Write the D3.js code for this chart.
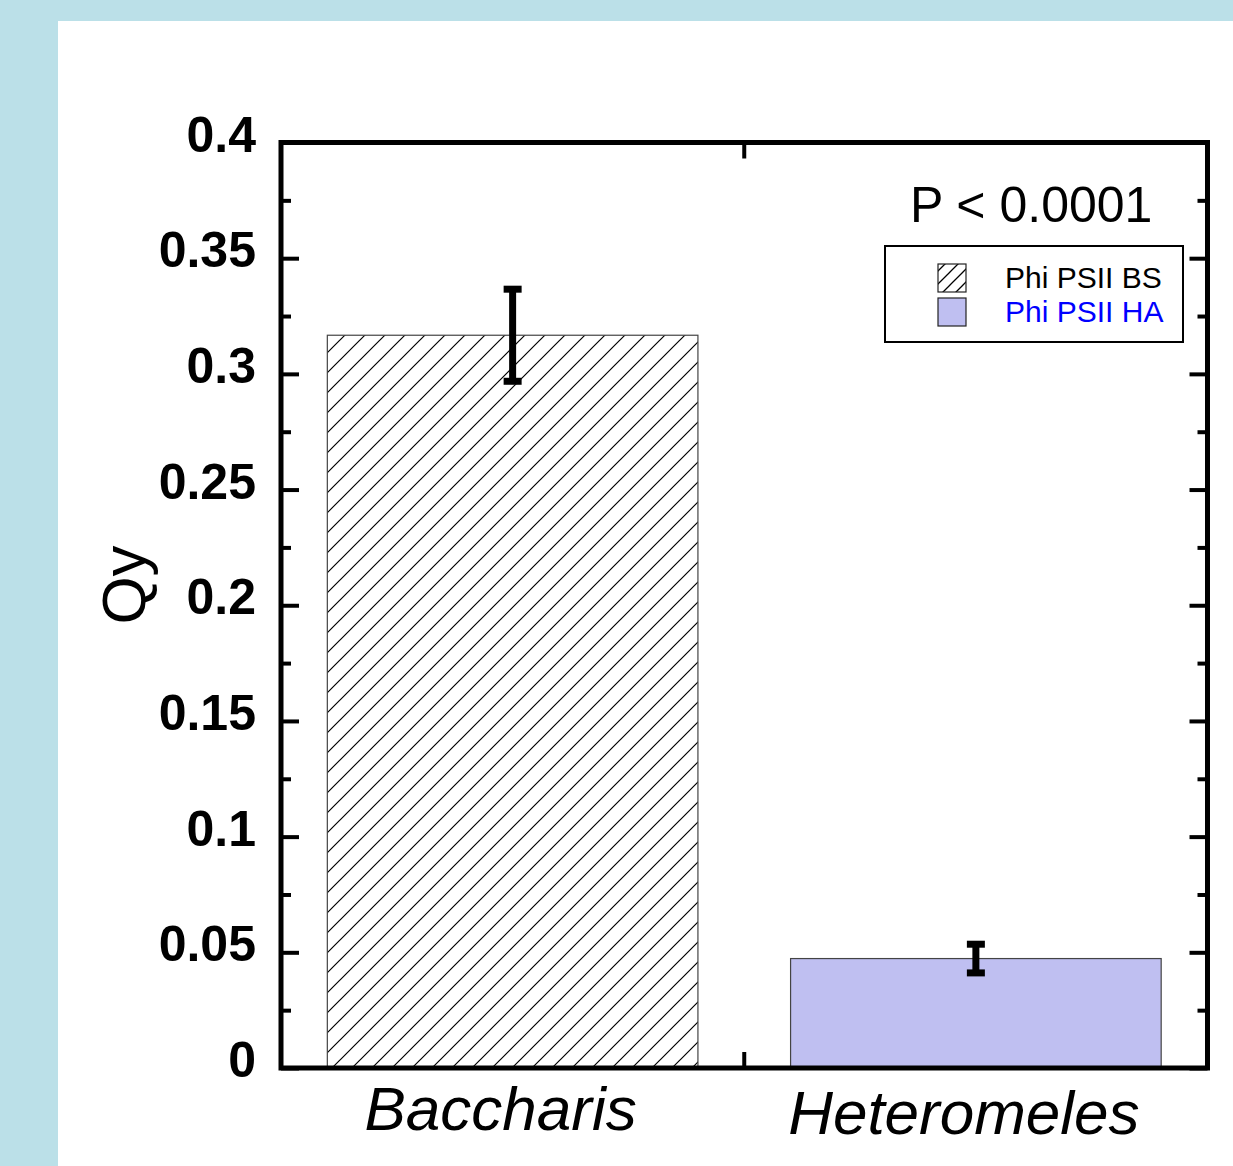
<!DOCTYPE html>
<html>
<head>
<meta charset="utf-8">
<script src="https://cdn.jsdelivr.net/npm/d3@7/dist/d3.min.js"></script>
<style>
  html, body { margin: 0; padding: 0; background: #bbe0e8; }
  svg { display: block; }
</style>
</head>
<body>
<div id="chart"></div>
<script>
// Chart data
const categories = ['Baccharis', 'Heteromeles'];
const means = [0.3167, 0.0473];
const errors = [0.0199, 0.0062];
const seriesNames = ['Phi PSII BS', 'Phi PSII HA'];
const seriesColors = ['url(#hatch)', '#bfbff1'];
const legendTextColors = ['#000000', '#0000ff'];
const yMajorTicks = [0, 0.05, 0.1, 0.15, 0.2, 0.25, 0.3, 0.35, 0.4];
const yTickLabels = ['0', '0.05', '0.1', '0.15', '0.2', '0.25', '0.3', '0.35', '0.4'];
const yMinorTicks = [0.025, 0.075, 0.125, 0.175, 0.225, 0.275, 0.325, 0.375];
const yLabel = 'Qy';
const pValueText = 'P < 0.0001';

// Dimensions
const W = 1233, H = 1166;
const plot = { left: 281, right: 1207.5, top: 142.5, bottom: 1068 };
const font = '"Liberation Sans", Arial, sans-serif';

const svg = d3.select('#chart')
    .append('svg')
    .attr('width', W)
    .attr('height', H);

// Hatch pattern for the first series
const defs = svg.append('defs');
const hatch = defs.append('pattern')
    .attr('id', 'hatch')
    .attr('patternUnits', 'userSpaceOnUse')
    .attr('width', 20)
    .attr('height', 20);
hatch.append('rect').attr('width', 20).attr('height', 20).attr('fill', '#fff');
hatch.append('path')
    .attr('d', 'M-5,5 L5,-5 M0,20 L20,0 M15,25 L25,15')
    .attr('stroke', '#000')
    .attr('stroke-width', 1.2);

const hatchSmall = defs.append('pattern')
    .attr('id', 'hatch-small')
    .attr('patternUnits', 'userSpaceOnUse')
    .attr('width', 13)
    .attr('height', 13);
hatchSmall.append('rect').attr('width', 13).attr('height', 13).attr('fill', '#fff');
hatchSmall.append('path')
    .attr('d', 'M-3,3 L3,-3 M0,13 L13,0 M10,16 L16,10')
    .attr('stroke', '#000')
    .attr('stroke-width', 1.3);

// Backgrounds
svg.append('rect').attr('width', W).attr('height', H).attr('fill', '#bbe0e8');
svg.append('rect').attr('x', 58).attr('y', 21).attr('width', W - 58).attr('height', H - 21).attr('fill', '#fff');

// Scales
const x = d3.scaleBand()
    .domain(categories)
    .range([plot.left, plot.right])
    .paddingInner(0.2)
    .paddingOuter(0.1);

const y = d3.scaleLinear()
    .domain([0, 0.4])
    .range([plot.bottom, plot.top]);

// Bars
svg.selectAll('.bar')
    .data(categories)
    .enter().append('rect')
    .attr('class', 'bar')
    .attr('x', d => x(d))
    .attr('y', (d, i) => y(means[i]))
    .attr('width', x.bandwidth())
    .attr('height', (d, i) => y(0) - y(means[i]))
    .attr('fill', (d, i) => seriesColors[i])
    .attr('stroke', '#444')
    .attr('stroke-width', 1.2);

// Error bars
const errG = svg.selectAll('.err')
    .data(categories)
    .enter().append('g')
    .attr('class', 'err')
    .attr('stroke', '#000')
    .attr('stroke-width', 7);

errG.append('line')
    .attr('x1', d => x(d) + x.bandwidth() / 2)
    .attr('x2', d => x(d) + x.bandwidth() / 2)
    .attr('y1', (d, i) => y(means[i] + errors[i]))
    .attr('y2', (d, i) => y(means[i] - errors[i]));

[1, -1].forEach(sign => {
    errG.append('line')
        .attr('x1', d => x(d) + x.bandwidth() / 2 - 9)
        .attr('x2', d => x(d) + x.bandwidth() / 2 + 9)
        .attr('y1', (d, i) => y(means[i] + sign * errors[i]))
        .attr('y2', (d, i) => y(means[i] + sign * errors[i]));
});

// Left axis (ticks inward, labels outside)
const leftAxis = svg.append('g')
    .attr('transform', `translate(${plot.left},0)`)
    .call(d3.axisLeft(y)
        .tickValues(yMajorTicks)
        .tickSize(-18)
        .tickPadding(25)
        .tickFormat((d, i) => yTickLabels[i]));
leftAxis.select('.domain').remove();
leftAxis.selectAll('line').attr('stroke-width', 4);
leftAxis.selectAll('text')
    .attr('dy', '0.17em')
    .style('font-family', font)
    .style('font-size', '50px')
    .style('font-weight', 'bold')
    .attr('fill', '#000');

const leftMinor = svg.append('g')
    .attr('transform', `translate(${plot.left},0)`)
    .call(d3.axisLeft(y).tickValues(yMinorTicks).tickSize(-10).tickFormat(''));
leftMinor.select('.domain').remove();
leftMinor.selectAll('line').attr('stroke-width', 4);

// Right axis (ticks inward, no labels)
const rightAxis = svg.append('g')
    .attr('transform', `translate(${plot.right},0)`)
    .call(d3.axisRight(y).tickValues(yMajorTicks).tickSize(-18).tickFormat(''));
rightAxis.select('.domain').remove();
rightAxis.selectAll('line').attr('stroke-width', 4);

const rightMinor = svg.append('g')
    .attr('transform', `translate(${plot.right},0)`)
    .call(d3.axisRight(y).tickValues(yMinorTicks).tickSize(-10).tickFormat(''));
rightMinor.select('.domain').remove();
rightMinor.selectAll('line').attr('stroke-width', 4);

// Category divider ticks on top and bottom
const divider = (x(categories[0]) + x.bandwidth() + x(categories[1])) / 2;
svg.append('line')
    .attr('x1', divider).attr('x2', divider)
    .attr('y1', plot.bottom).attr('y2', plot.bottom - 16)
    .attr('stroke', '#000').attr('stroke-width', 4);
svg.append('line')
    .attr('x1', divider).attr('x2', divider)
    .attr('y1', plot.top).attr('y2', plot.top + 16)
    .attr('stroke', '#000').attr('stroke-width', 4);

// Frame
svg.append('rect')
    .attr('x', plot.left)
    .attr('y', plot.top)
    .attr('width', plot.right - plot.left)
    .attr('height', plot.bottom - plot.top)
    .attr('fill', 'none')
    .attr('stroke', '#000')
    .attr('stroke-width', 5);

// Category labels
svg.selectAll('.cat-label')
    .data(categories)
    .enter().append('text')
    .attr('class', 'cat-label')
    .attr('x', d => x(d) + x.bandwidth() / 2 - 12)
    .attr('y', (d, i) => 1130 + i * 4)
    .attr('text-anchor', 'middle')
    .style('font-family', font)
    .style('font-size', '62px')
    .style('font-style', 'italic')
    .attr('fill', '#000')
    .text(d => d);

// Y axis title
svg.append('text')
    .attr('transform', 'translate(145,585) rotate(-90)')
    .attr('text-anchor', 'middle')
    .style('font-family', font)
    .style('font-size', '62px')
    .attr('fill', '#000')
    .text(yLabel);

// P value
svg.append('text')
    .attr('x', 910)
    .attr('y', 222)
    .style('font-family', font)
    .style('font-size', '50px')
    .attr('fill', '#000')
    .text(pValueText);

// Legend
const legend = svg.append('g').attr('transform', 'translate(885,246)');
legend.append('rect')
    .attr('width', 298)
    .attr('height', 96)
    .attr('fill', '#fff')
    .attr('stroke', '#000')
    .attr('stroke-width', 2);

const items = legend.selectAll('.legend-item')
    .data(seriesNames)
    .enter().append('g')
    .attr('class', 'legend-item')
    .attr('transform', (d, i) => `translate(0, ${i * 34})`);

items.append('rect')
    .attr('x', 53)
    .attr('y', 18)
    .attr('width', 28)
    .attr('height', 28)
    .attr('fill', (d, i) => i === 0 ? 'url(#hatch-small)' : seriesColors[i])
    .attr('stroke', '#222')
    .attr('stroke-width', 1.2);

items.append('text')
    .attr('x', 120)
    .attr('y', 42)
    .style('font-family', font)
    .style('font-size', '30px')
    .attr('fill', (d, i) => legendTextColors[i])
    .text(d => d);
</script>
</body>
</html>
